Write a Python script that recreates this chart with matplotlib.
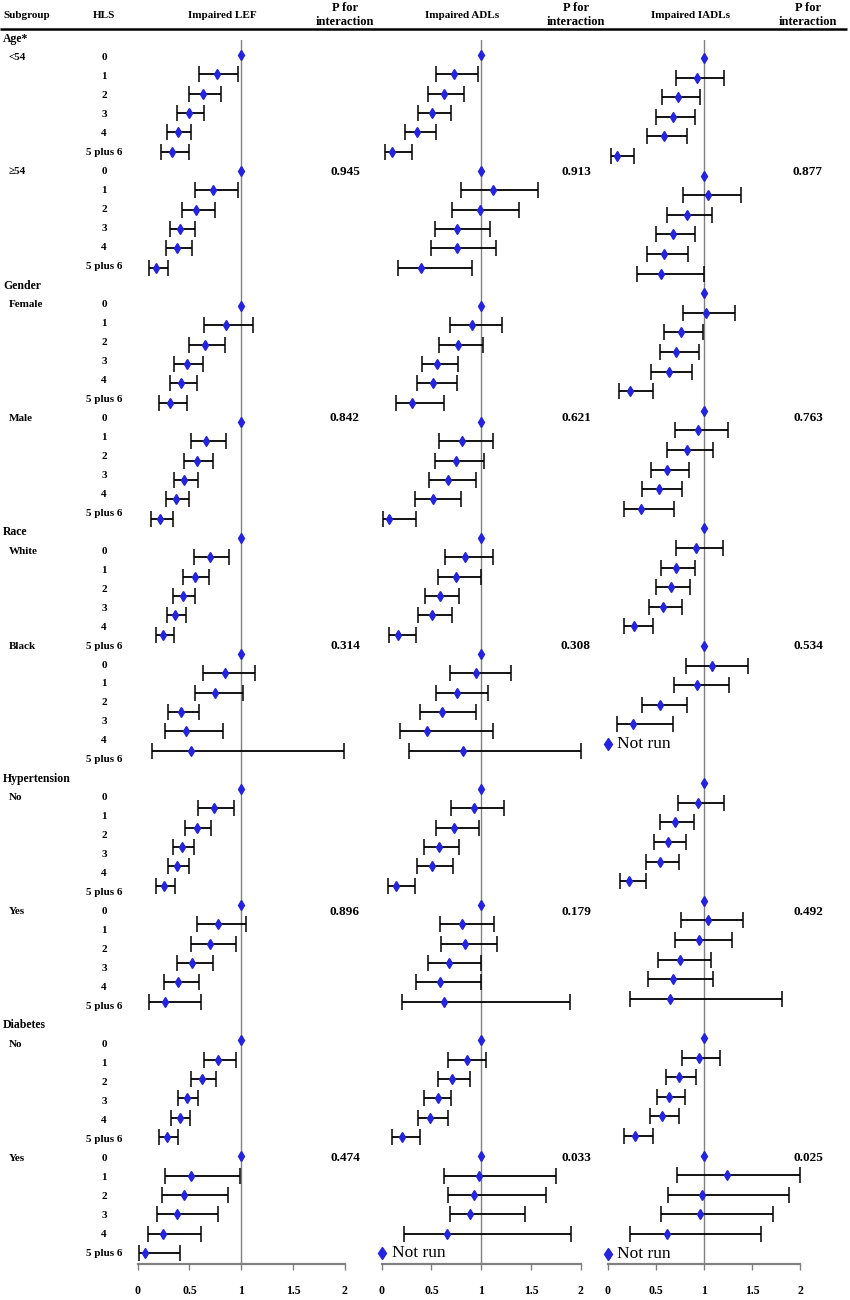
import numpy as np
import matplotlib
matplotlib.use('Agg')
import matplotlib.pyplot as plt

nan = np.nan

# ---- data -------------------------------------------------------------
sections = ['Age*', 'Gender', 'Race', 'Hypertension', 'Diabetes']
groups = ['<54', '≥54', 'Female', 'Male', 'White', 'Black', 'No', 'Yes', 'No', 'Yes']
hls_levels = ['0', '1', '2', '3', '4', '5 plus 6']
tick_vals = [0, 0.5, 1, 1.5, 2]
tick_labels = ['0', '0.5', '1', '1.5', '2']

lef_or = [
    [1, 0.763, 0.630, 0.493, 0.386, 0.331],
    [1, 0.730, 0.566, 0.411, 0.380, 0.174],
    [1, 0.850, 0.647, 0.476, 0.415, 0.315],
    [1, 0.663, 0.569, 0.451, 0.366, 0.212],
    [1, 0.695, 0.551, 0.434, 0.360, 0.241],
    [1, 0.847, 0.750, 0.415, 0.463, 0.518],
    [1, 0.737, 0.569, 0.428, 0.380, 0.251],
    [1, 0.775, 0.695, 0.521, 0.392, 0.261],
    [1, 0.779, 0.624, 0.473, 0.406, 0.283],
    [1, 0.512, 0.447, 0.383, 0.247, 0.073],
]
lef_lo = [
    [nan, 0.595, 0.496, 0.382, 0.286, 0.225],
    [nan, 0.551, 0.428, 0.308, 0.273, 0.106],
    [nan, 0.641, 0.496, 0.354, 0.308, 0.205],
    [nan, 0.517, 0.444, 0.348, 0.270, 0.131],
    [nan, 0.547, 0.434, 0.344, 0.280, 0.173],
    [nan, 0.631, 0.554, 0.290, 0.260, 0.138],
    [nan, 0.586, 0.454, 0.341, 0.290, 0.180],
    [nan, 0.569, 0.512, 0.376, 0.257, 0.112],
    [nan, 0.644, 0.515, 0.386, 0.322, 0.203],
    [nan, 0.267, 0.235, 0.186, 0.100, 0.015],
]
lef_hi = [
    [nan, 0.972, 0.805, 0.637, 0.514, 0.496],
    [nan, 0.972, 0.747, 0.554, 0.524, 0.296],
    [nan, 1.117, 0.846, 0.628, 0.569, 0.479],
    [nan, 0.853, 0.727, 0.586, 0.496, 0.341],
    [nan, 0.884, 0.691, 0.556, 0.469, 0.348],
    [nan, 1.133, 1.015, 0.595, 0.822, 1.990],
    [nan, 0.930, 0.711, 0.547, 0.493, 0.363],
    [nan, 1.049, 0.947, 0.727, 0.595, 0.609],
    [nan, 0.950, 0.759, 0.580, 0.505, 0.389],
    [nan, 0.991, 0.872, 0.773, 0.615, 0.406],
]

adl_or = [
    [1, 0.724, 0.623, 0.505, 0.354, 0.104],
    [1, 1.121, 0.987, 0.761, 0.754, 0.390],
    [1, 0.909, 0.764, 0.559, 0.518, 0.300],
    [1, 0.805, 0.744, 0.667, 0.515, 0.077],
    [1, 0.838, 0.747, 0.582, 0.502, 0.162],
    [1, 0.943, 0.754, 0.603, 0.455, 0.815],
    [1, 0.926, 0.731, 0.576, 0.505, 0.145],
    [1, 0.811, 0.835, 0.679, 0.583, 0.623],
    [1, 0.854, 0.707, 0.563, 0.485, 0.201],
    [1, 0.981, 0.925, 0.884, 0.656, nan],
]
adl_lo = [
    [nan, 0.545, 0.465, 0.364, 0.232, 0.030],
    [nan, 0.801, 0.704, 0.535, 0.495, 0.168],
    [nan, 0.684, 0.572, 0.404, 0.354, 0.141],
    [nan, 0.579, 0.539, 0.471, 0.330, 0.017],
    [nan, 0.633, 0.566, 0.438, 0.360, 0.077],
    [nan, 0.687, 0.542, 0.380, 0.182, 0.273],
    [nan, 0.694, 0.549, 0.424, 0.354, 0.064],
    [nan, 0.586, 0.596, 0.462, 0.345, 0.204],
    [nan, 0.666, 0.563, 0.422, 0.362, 0.107],
    [nan, 0.626, 0.666, 0.690, 0.228, nan],
]
adl_hi = [
    [nan, 0.963, 0.831, 0.697, 0.542, 0.303],
    [nan, 1.569, 1.380, 1.091, 1.145, 0.912],
    [nan, 1.212, 1.023, 0.768, 0.761, 0.629],
    [nan, 1.114, 1.033, 0.946, 0.798, 0.343],
    [nan, 1.114, 0.993, 0.781, 0.704, 0.343],
    [nan, 1.300, 1.067, 0.949, 1.118, 2.000],
    [nan, 1.229, 0.973, 0.781, 0.720, 0.333],
    [nan, 1.131, 1.162, 0.998, 0.998, 1.892],
    [nan, 1.052, 0.891, 0.696, 0.663, 0.388],
    [nan, 1.756, 1.654, 1.437, 1.907, nan],
]

iadl_or = [
    [1, 0.924, 0.735, 0.673, 0.581, 0.096],
    [1, 1.045, 0.821, 0.673, 0.581, 0.549],
    [1, 1.017, 0.756, 0.711, 0.632, 0.234],
    [1, 0.935, 0.821, 0.619, 0.529, 0.344],
    [1, 0.921, 0.708, 0.653, 0.574, 0.278],
    [1, 1.086, 0.928, 0.539, 0.261, nan],
    [1, 0.942, 0.694, 0.629, 0.546, 0.223],
    [1, 1.038, 0.945, 0.748, 0.678, 0.647],
    [1, 0.948, 0.740, 0.640, 0.567, 0.280],
    [1, 1.236, 0.982, 0.955, 0.616, nan],
]
iadl_lo = [
    [nan, 0.708, 0.560, 0.505, 0.409, 0.034],
    [nan, 0.787, 0.615, 0.498, 0.405, 0.302],
    [nan, 0.780, 0.581, 0.539, 0.454, 0.120],
    [nan, 0.704, 0.619, 0.450, 0.357, 0.168],
    [nan, 0.711, 0.550, 0.505, 0.430, 0.165],
    [nan, 0.811, 0.684, 0.357, 0.100, nan],
    [nan, 0.735, 0.539, 0.481, 0.402, 0.124],
    [nan, 0.766, 0.694, 0.525, 0.415, 0.232],
    [nan, 0.775, 0.602, 0.512, 0.439, 0.169],
    [nan, 0.723, 0.623, 0.550, 0.235, nan],
]
iadl_hi = [
    [nan, 1.206, 0.962, 0.907, 0.828, 0.271],
    [nan, 1.385, 1.086, 0.911, 0.832, 1.003],
    [nan, 1.323, 0.987, 0.948, 0.879, 0.471],
    [nan, 1.247, 1.093, 0.842, 0.773, 0.684],
    [nan, 1.193, 0.910, 0.856, 0.776, 0.474],
    [nan, 1.454, 1.258, 0.821, 0.677, nan],
    [nan, 1.209, 0.894, 0.818, 0.739, 0.402],
    [nan, 1.409, 1.292, 1.070, 1.097, 1.810],
    [nan, 1.169, 0.914, 0.803, 0.744, 0.467],
    [nan, 2.000, 1.883, 1.713, 1.595, nan],
]

p_lef = ['0.945', '0.842', '0.314', '0.896', '0.474']
p_adl = ['0.913', '0.621', '0.308', '0.179', '0.033']
p_iadl = ['0.877', '0.763', '0.534', '0.492', '0.025']

# ---- layout -----------------------------------------------------------
W, H = 850, 1300
serif = ['Liberation Serif', 'DejaVu Serif']
blue = '#2424E0'
grey = '#808080'

fig = plt.figure(figsize=(8.5, 13), dpi=100)
bg = fig.add_axes([0, 0, 1, 1])
bg.set_xlim(0, W)
bg.set_ylim(H, 0)
bg.axis('off')


def label_y(r):
    return 39 + 18.97 * r


def txt(x, y, s, size=8, ha='left', weight='bold', **kw):
    bg.text(x, y, s, fontsize=size, ha=ha, va='center', fontweight=weight,
            family=serif, **kw)


# header
txt(3, 15, 'Subgroup')
txt(104, 15, 'HLS', ha='center')
txt(222, 15, 'Impaired LEF', ha='center')
txt(462, 15, 'Impaired ADLs', ha='center')
txt(691, 15, 'Impaired IADLs', ha='center')
for xc in (345, 576, 808):
    txt(xc, 15, 'P for\ninteraction', size=9, ha='center', linespacing=1.15)
bg.plot([0, 847], [29, 29], color='black', lw=1.8, solid_capstyle='butt')

# row labels (Black label sits one row higher in the original)
name_shift = {5: -1}
p_cols = [(345, p_lef), (576, p_adl), (808, p_iadl)]
for si, sec in enumerate(sections):
    base = si * 13
    txt(3, label_y(base), sec, size=8.5)
    for gi in range(2):
        g = si * 2 + gi
        first = base + 1 + gi * 6
        name_row = first + name_shift.get(g, 0)
        txt(9, label_y(name_row), groups[g])
        for k, lvl in enumerate(hls_levels):
            txt(104, label_y(first + k), lvl, ha='center')
        if gi == 1:
            for xc, pv in p_cols:
                txt(xc, label_y(name_row), pv[si], size=9.5, ha='center')

# ---- panels -----------------------------------------------------------
panels = [
    (lef_or, lef_lo, lef_hi, 137.7, 344.7, 55, 19.32, {2, 6, 8}),
    (adl_or, adl_lo, adl_hi, 381.7, 580.7, 55, 19.32, {2, 6, 8}),
    (iadl_or, iadl_lo, iadl_hi, 607.7, 800.3, 58, 19.6, {6, 8}),
]
top_px, axis_px = 40, 1264

for est, lo, hi, x0, x2, y0, pitch, gaps in panels:
    ax = fig.add_axes([x0 / W, (H - axis_px) / H, (x2 - x0) / W,
                       (axis_px - top_px) / H])
    ax.set_xlim(0, 2)
    ax.set_ylim((axis_px - y0) / pitch, (top_px - y0) / pitch)
    ax.patch.set_alpha(0)
    for s in ('top', 'left', 'right'):
        ax.spines[s].set_visible(False)
    ax.spines['bottom'].set_color(grey)
    ax.spines['bottom'].set_linewidth(1.6)
    ax.set_yticks([])
    ax.set_xticks(tick_vals)
    ax.set_xticklabels(tick_labels, fontsize=8.5, fontweight='bold',
                       family=serif)
    ax.tick_params(axis='x', direction='out', length=4, width=1,
                   color=grey, pad=11)
    ax.axvline(1, color=grey, lw=1.0, zorder=1)

    slot = 0
    for g in range(len(groups)):
        if g in gaps:
            slot += 1
        for k in range(len(hls_levels)):
            e, l, h = est[g][k], lo[g][k], hi[g][k]
            if np.isnan(e):
                ax.plot(0, slot, marker='d', color=blue, ms=6,
                        clip_on=False, zorder=4)
                ax.text(0.1, slot, 'Not run', fontsize=12.5, va='center',
                        family=serif)
            else:
                if not np.isnan(l):
                    ax.errorbar(e, slot, xerr=[[e - l], [h - e]], fmt='none',
                                ecolor='black', elinewidth=1.3, capsize=6,
                                capthick=1.1, zorder=2, clip_on=False)
                ax.plot(e, slot, marker='d', color=blue, ms=5.5, zorder=4,
                        clip_on=False)
            slot += 1

fig.savefig('out.png', dpi=100)
